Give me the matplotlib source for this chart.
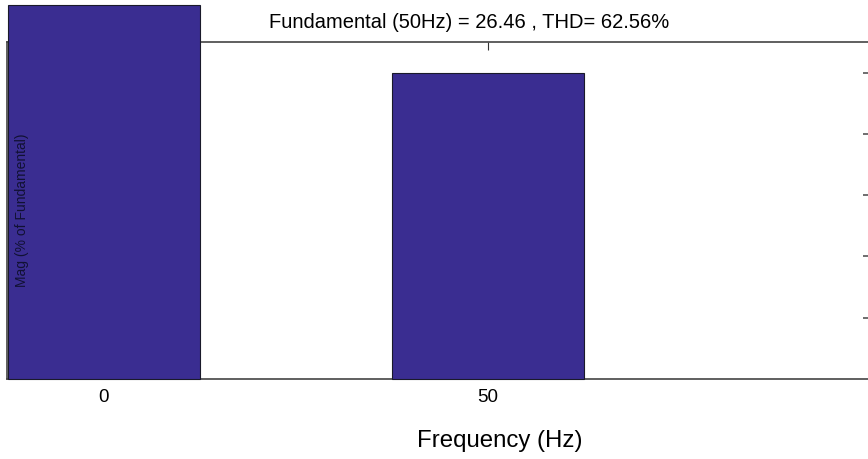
import matplotlib.pyplot as plt

plt.rcParams['font.family'] = ['Liberation Sans', 'DejaVu Sans']

freqs = [0, 50]
mags = [122, 100]          # % of fundamental; DC bar runs past the top
fundamental = 26.46
thd = 62.56

bar_color = '#3a2d91'

fig = plt.figure(figsize=(8.68, 4.59), dpi=100)
ax = fig.add_axes([0.0081, 0.1743, 0.9937, 0.7342])

bars = ax.bar(freqs, mags, width=25, color=bar_color, edgecolor='#1a1a2a',
              linewidth=0.8, zorder=3)
for b in bars:
    b.set_clip_on(False)

ax.set_xlim(-12.57, 99.74)
ax.set_ylim(0, 110)

ax.set_xticks(freqs)
ax.set_xticklabels([str(f) for f in freqs], fontsize=13.5)
ax.set_yticks([20, 40, 60, 80, 100])
ax.tick_params(axis='x', direction='in', top=True, length=6, pad=7,
               color='#333333')
ax.tick_params(axis='y', direction='in', left=False, right=True,
               labelleft=False, length=5, width=1.2, color='#555555')
for s in ax.spines.values():
    s.set_color('#444444')
    s.set_linewidth(1.2)

fig.text(0.541, 0.952,
         f'Fundamental (50Hz) = {fundamental} , THD= {thd}%',
         ha='center', va='center', fontsize=14.5)
fig.text(0.576, 0.04, 'Frequency (Hz)', ha='center', va='center',
         fontsize=17.3)
fig.text(0.025, 0.542, 'Mag (% of Fundamental)', rotation=90,
         ha='center', va='center', fontsize=10, color='#111133', zorder=5)

fig.savefig('out.png', dpi=100)
